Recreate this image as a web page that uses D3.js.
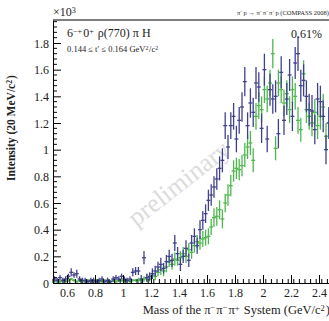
<!DOCTYPE html>
<html>
<head>
<meta charset="utf-8">
<script src="https://cdn.jsdelivr.net/npm/d3@7/dist/d3.min.js"></script>
<style>
  html, body { margin: 0; padding: 0; background: #fff; }
  svg { display: block; }
  text { font-family: "Liberation Serif", "DejaVu Serif", serif; }
</style>
</head>
<body>
<svg id="chart" width="329" height="321"></svg>
<script>
// Histogram binning of the 3-pion mass (GeV/c^2)
const binLow = 0.5;
const binWidth = 0.02;

// Intensity per 20 MeV bin, in units of 10^3 (first series, dark blue)
const blueIntensity = [
  0.03, 0.02, 0.04, 0.02, 0.03, 0.05, 0.08, 0.06, 0.07, 0.03,
  0.02, 0.02, 0.01, 0.02, 0.02, 0.01, 0.02, 0.03, 0.01, 0.02,
  0.01, 0.03, 0.04, 0.03, 0.05, 0.03, 0.02, 0.03, 0.08, 0.09,
  0.09, 0.03, 0.19, 0.04, 0.05, 0.07, 0.09, 0.12, 0.14, 0.11,
  0.16, 0.20, 0.17, 0.30, 0.22, 0.14, 0.20, 0.26, 0.17, 0.30,
  0.35, 0.28, 0.40, 0.47, 0.52, 0.62, 0.66, 0.72, 0.78, 0.86,
  0.92, 1.18, 1.02, 1.18, 1.25, 1.08, 1.22, 1.32, 1.51, 1.18,
  1.35, 1.28, 1.50, 1.47, 1.16, 1.60, 1.08, 1.45, 1.38, 1.40,
  1.12, 1.58, 1.22, 1.38, 1.56, 1.25, 1.65, 1.72, 1.48, 1.52,
  1.40, 1.30, 1.29, 1.15, 1.38, 1.36, 1.25, 1.00, 1.20, 1.10
];
const blueError = [
  0.02, 0.02, 0.02, 0.02, 0.02, 0.02, 0.03, 0.02, 0.03, 0.02,
  0.02, 0.02, 0.01, 0.02, 0.02, 0.01, 0.02, 0.02, 0.01, 0.02,
  0.01, 0.02, 0.02, 0.02, 0.02, 0.02, 0.02, 0.02, 0.03, 0.03,
  0.03, 0.03, 0.05, 0.03, 0.03, 0.04, 0.04, 0.04, 0.05, 0.04,
  0.05, 0.05, 0.05, 0.06, 0.05, 0.05, 0.05, 0.06, 0.05, 0.06,
  0.06, 0.06, 0.07, 0.07, 0.07, 0.08, 0.08, 0.08, 0.08, 0.09,
  0.09, 0.10, 0.09, 0.10, 0.10, 0.10, 0.10, 0.11, 0.11, 0.10,
  0.11, 0.11, 0.12, 0.11, 0.11, 0.12, 0.10, 0.12, 0.11, 0.12,
  0.11, 0.12, 0.11, 0.12, 0.12, 0.11, 0.12, 0.13, 0.12, 0.12,
  0.12, 0.12, 0.12, 0.11, 0.12, 0.12, 0.12, 0.11, 0.12, 0.12
];

// Second series (green)
const greenIntensity = [
  0.01, 0.02, 0.01, 0.02, 0.01, 0.02, 0.03, 0.02, 0.01, 0.02,
  0.01, 0.01, 0.02, 0.01, 0.01, 0.02, 0.01, 0.01, 0.02, 0.01,
  0.01, 0.02, 0.01, 0.02, 0.02, 0.01, 0.02, 0.01, 0.02, 0.02,
  0.02, 0.02, 0.03, 0.04, 0.03, 0.06, 0.05, 0.08, 0.10, 0.09,
  0.12, 0.16, 0.14, 0.18, 0.17, 0.19, 0.22, 0.20, 0.25, 0.23,
  0.28, 0.31, 0.30, 0.33, 0.34, 0.35, 0.42, 0.49, 0.50, 0.55,
  0.48, 0.60, 0.66, 0.73, 0.84, 0.86, 0.85, 0.88, 0.96, 1.02,
  1.05, 0.92, 1.25, 1.33, 1.30, 1.45, 1.38, 1.50, 1.72, 1.01,
  1.50, 1.45, 1.35, 1.42, 1.30, 1.45, 1.40, 1.22, 1.15, 1.57,
  1.30, 1.25, 1.20, 1.28, 1.18, 1.25, 1.32, 1.10, 1.20, 1.15
];
const greenError = [
  0.01, 0.01, 0.01, 0.01, 0.01, 0.01, 0.01, 0.01, 0.01, 0.01,
  0.01, 0.01, 0.01, 0.01, 0.01, 0.01, 0.01, 0.01, 0.01, 0.01,
  0.01, 0.01, 0.01, 0.01, 0.01, 0.01, 0.01, 0.01, 0.01, 0.01,
  0.02, 0.02, 0.02, 0.03, 0.02, 0.03, 0.03, 0.03, 0.04, 0.04,
  0.04, 0.04, 0.04, 0.05, 0.04, 0.05, 0.05, 0.05, 0.05, 0.05,
  0.05, 0.05, 0.05, 0.06, 0.06, 0.06, 0.06, 0.07, 0.07, 0.07,
  0.07, 0.07, 0.08, 0.08, 0.08, 0.08, 0.08, 0.08, 0.09, 0.09,
  0.09, 0.09, 0.10, 0.10, 0.10, 0.10, 0.10, 0.10, 0.11, 0.09,
  0.10, 0.10, 0.10, 0.10, 0.10, 0.10, 0.10, 0.10, 0.09, 0.10,
  0.10, 0.10, 0.10, 0.10, 0.10, 0.10, 0.10, 0.10, 0.10, 0.10
];

const xTickValues = [0.6, 0.8, 1.0, 1.2, 1.4, 1.6, 1.8, 2.0, 2.2, 2.4];
const yTickValues = [0, 0.2, 0.4, 0.6, 0.8, 1.0, 1.2, 1.4, 1.6, 1.8];

const svg = d3.select("#chart");
const frame = { left: 53, right: 333, top: 20, bottom: 283 };

const x = d3.scaleLinear().domain([0.5, 2.5]).range([frame.left, frame.right]);
const y = d3.scaleLinear().domain([0, 1.9725]).range([frame.bottom, frame.top]);

// Text with ^{...} superscripts
function richText(sel, str, supScale) {
  const parts = str.split(/(\^\{[^}]*\})/).filter(s => s.length);
  parts.forEach(p => {
    if (p.startsWith("^{")) {
      sel.append("tspan").attr("dy", "-0.42em").attr("font-size", (supScale || 0.68) + "em")
        .text(p.slice(2, -1));
      sel.append("tspan").attr("dy", "0.29em").text("\u200A");
    } else {
      sel.append("tspan").text(p);
    }
  });
  return sel;
}

// Watermark
svg.append("text")
  .attr("transform", "translate(184,190) rotate(-38)")
  .attr("text-anchor", "middle")
  .attr("font-size", 26)
  .attr("fill", "#dcdcdc")
  .text("preliminary");

// Data points with error bars
svg.append("clipPath").attr("id", "plotClip")
  .append("rect").attr("x", frame.left).attr("y", frame.top)
  .attr("width", frame.right - frame.left).attr("height", frame.bottom - frame.top);

const plot = svg.append("g").attr("clip-path", "url(#plotClip)");

function drawSeries(values, errors, color) {
  const pts = values.map((v, i) => ({
    m: binLow + binWidth * (i + 0.5), v, e: errors[i]
  }));
  const g = plot.append("g").attr("stroke", color).attr("stroke-width", 1.3);
  g.selectAll("line.err").data(pts).enter().append("line")
    .attr("x1", d => x(d.m)).attr("x2", d => x(d.m))
    .attr("y1", d => y(Math.max(0, d.v - d.e))).attr("y2", d => y(d.v + d.e));
  g.selectAll("line.cap").data(pts).enter().append("line")
    .attr("x1", d => x(d.m - binWidth * 0.7)).attr("x2", d => x(d.m + binWidth * 0.7))
    .attr("y1", d => y(d.v)).attr("y2", d => y(d.v));
}
drawSeries(greenIntensity, greenError, "#4cb84c");
drawSeries(blueIntensity, blueError, "#40408f");

// Frame lines
svg.append("line").attr("x1", frame.left).attr("x2", 329)
  .attr("y1", frame.top).attr("y2", frame.top).attr("stroke", "#000").attr("stroke-width", 1);

// Axes: major ticks labeled, minor ticks every fifth of an interval, drawn inward
const xMinor = d3.range(0.5, 2.5001, 0.04).filter(v => !xTickValues.some(t => Math.abs(t - v) < 1e-6));
const yMinor = d3.range(0, 1.97, 0.04).filter(v => !yTickValues.some(t => Math.abs(t - v) < 1e-6));

const xAxis = d3.axisBottom(x).tickValues(xTickValues).tickSizeInner(-8).tickSizeOuter(0)
  .tickPadding(12).tickFormat(d => d3.format("~g")(d));
const gx = svg.append("g").attr("transform", `translate(0,${frame.bottom})`).call(xAxis);
gx.append("g").selectAll("line").data(xMinor).enter().append("line")
  .attr("x1", d => x(d)).attr("x2", d => x(d)).attr("y1", 0).attr("y2", -4).attr("stroke", "#000");

const yAxis = d3.axisLeft(y).tickValues(yTickValues).tickSizeInner(-8).tickSizeOuter(0)
  .tickPadding(12).tickFormat(d => d3.format("~g")(d));
const gy = svg.append("g").attr("transform", `translate(${frame.left},0)`).call(yAxis);
gy.append("g").selectAll("line").data(yMinor).enter().append("line")
  .attr("x1", 0).attr("x2", 4).attr("y1", d => y(d)).attr("y2", d => y(d)).attr("stroke", "#000");

[gx, gy].forEach(g => {
  g.select(".domain").attr("stroke", "#000");
  g.selectAll(".tick text").attr("font-family", "Liberation Serif, serif").attr("font-size", 12).attr("fill", "#222");
});
gx.selectAll(".tick text").attr("dy", "0.2em");
gy.selectAll(".tick text").attr("x", -4).attr("dy", "0.35em");

// Exponent marker
richText(svg.append("text").attr("x", 53).attr("y", 16).attr("font-size", 12).attr("fill", "#222"), "\u00d710^{3}");

// Axis titles
richText(svg.append("text")
  .attr("transform", "translate(15,128) rotate(-90)")
  .attr("text-anchor", "middle").attr("font-size", 11.5).attr("font-weight", "bold").attr("fill", "#222"),
  "Intensity (20 MeV/c^{2})");

richText(svg.append("text").attr("x", 330).attr("y", 314).attr("text-anchor", "end")
  .attr("font-size", 12.5).attr("fill", "#222"),
  "Mass of the \u03c0^{\u2212}\u03c0^{\u2212}\u03c0^{+} System (GeV/c^{2})");

// Reaction label, top right
richText(svg.append("text").attr("x", 329).attr("y", 15).attr("text-anchor", "end")
  .attr("font-size", 6.5).attr("fill", "#222"),
  "\u03c0^{\u2212}p \u2192 \u03c0^{\u2212}\u03c0^{\u2212}\u03c0^{+}p (COMPASS 2008)");

// Wave label and t' range
richText(svg.append("text").attr("x", 67).attr("y", 37).attr("font-size", 12).attr("fill", "#222"),
  "6^{\u2212+}0^{+} \u03c1(770) \u03c0 H");
richText(svg.append("text").attr("x", 67).attr("y", 52).attr("font-size", 8.5).attr("fill", "#222"),
  "0.144 \u2264 t\u2032 \u2264 0.164 GeV^{2}/c^{2}");

svg.append("text").attr("x", 322).attr("y", 38).attr("text-anchor", "end")
  .attr("font-size", 12).attr("fill", "#222").text("0.61%");
</script>
</body>
</html>
